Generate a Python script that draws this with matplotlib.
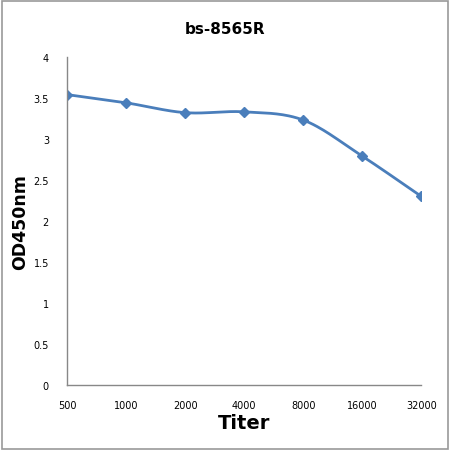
import matplotlib
matplotlib.use("Agg")
import matplotlib.pyplot as plt
from matplotlib.patches import Rectangle
import numpy as np

titers = ["500", "1000", "2000", "4000", "8000", "16000", "32000"]
od450 = [3.54, 3.44, 3.32, 3.33, 3.23, 2.79, 2.30]
y_ticks = [0, 0.5, 1, 1.5, 2, 2.5, 3, 3.5, 4]
y_labels = ["0", "0.5", "1", "1.5", "2", "2.5", "3", "3.5", "4"]

blue = "#4a7ebb"


def smooth(xs, ys, n=30):
    # catmull-rom style curve through the points, like excel's smoothed line
    xs = np.asarray(xs, float)
    ys = np.asarray(ys, float)
    px = np.concatenate([[2 * xs[0] - xs[1]], xs, [2 * xs[-1] - xs[-2]]])
    py = np.concatenate([[2 * ys[0] - ys[1]], ys, [2 * ys[-1] - ys[-2]]])
    outx, outy = [], []
    for i in range(1, len(px) - 2):
        t = np.linspace(0, 1, n)
        for p, out in ((px, outx), (py, outy)):
            p0, p1, p2, p3 = p[i - 1], p[i], p[i + 1], p[i + 2]
            c1 = p1 + (p2 - p0) / 6
            c2 = p2 - (p3 - p1) / 6
            out.extend((1 - t) ** 3 * p1 + 3 * (1 - t) ** 2 * t * c1
                       + 3 * (1 - t) * t ** 2 * c2 + t ** 3 * p2)
    return outx, outy


fig = plt.figure(figsize=(4.5, 4.52), dpi=100)
ax = fig.add_axes([0.149, 0.146, 0.787, 0.726])

x = np.arange(len(titers))
sx, sy = smooth(x, od450)
ax.plot(sx, sy, color=blue, lw=2.0, solid_capstyle="round")
ax.plot(x, od450, "D", color=blue, ms=5.5, lw=0)

ax.set_xlim(0, len(titers) - 1)
ax.set_ylim(0, 4)
ax.set_xticks(x)
ax.set_xticklabels(titers, fontsize=7)
ax.set_yticks(y_ticks)
ax.set_yticklabels(y_labels, fontsize=7)
ax.tick_params(axis="x", length=0, pad=11)
ax.tick_params(axis="y", length=0, pad=13)
for s in ["top", "right"]:
    ax.spines[s].set_visible(False)
for s in ["left", "bottom"]:
    ax.spines[s].set_color("#888888")
    ax.spines[s].set_linewidth(1.0)

ax.set_xlabel("Titer", fontsize=14, fontweight="bold", labelpad=2)
ax.set_ylabel("OD450nm", fontsize=12.5, fontweight="bold", labelpad=3)
fig.text(0.5, 0.935, "bs-8565R", ha="center", va="center", fontsize=11, fontweight="bold")

fig.patches.append(Rectangle((0.004, 0.004), 0.992, 0.992, transform=fig.transFigure,
                             fill=False, edgecolor="#999999", lw=1.2))

fig.savefig("out.png", dpi=100)
